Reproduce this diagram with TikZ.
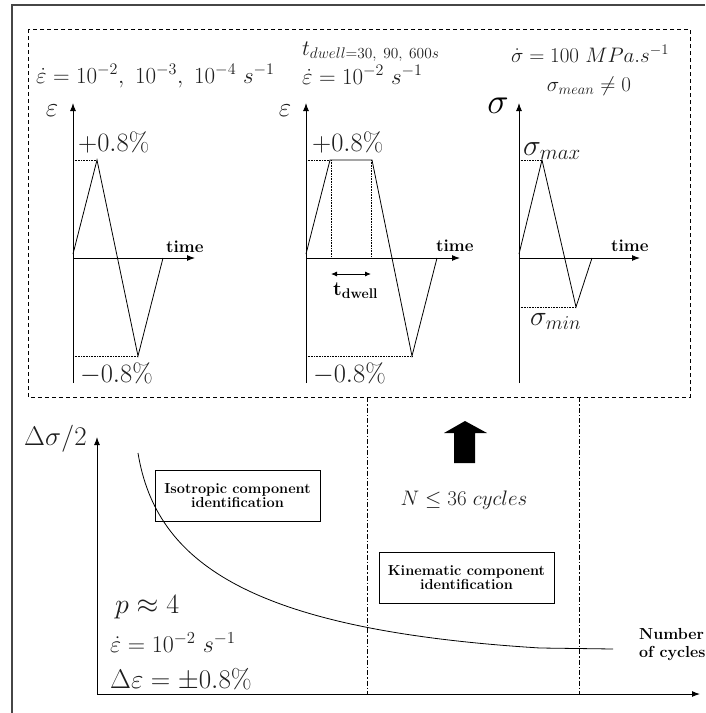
\RequirePackage{fix-cm}
\documentclass[tikz,border=0pt]{standalone}
\usetikzlibrary{arrows.meta}
\definecolor{txt}{RGB}{30,30,30}
\definecolor{frame}{RGB}{70,70,70}
\newcommand\fsz[1]{\fontsize{#1}{#1}\selectfont}
\begin{document}
\begin{tikzpicture}[x=1pt,y=-1pt,
  lbl/.style={inner sep=0pt,text=txt},
  axisline/.style={line width=1pt,-{Latex[length=8pt,width=6pt]}},
  wave/.style={line width=0.8pt},
  guide/.style={line width=0.6pt,dash pattern=on 0.8pt off 0.8pt},
  boxdash/.style={line width=0.8pt,dash pattern=on 4pt off 3pt},
  dashdot/.style={line width=0.8pt,dash pattern=on 5pt off 2pt on 1.5pt off 2pt},
  idbox/.style={draw,line width=0.8pt,inner sep=0pt,align=center,font=\fsz{14.5}\bfseries,text=black},
  timelbl/.style={inner sep=0pt,font=\fsz{17}\bfseries,anchor=base west}]
\useasboundingbox (0,0) rectangle (705,713);
% outer frame
\draw[frame,line width=1.4pt] (12,713) -- (12,5) -- (705,5);
% dashed box
\draw[boxdash] (28,29) rectangle (690,397);
% ---------- texts top
\node[lbl,anchor=base west] (r1) at (36,83) {\fsz{23}$\dot\varepsilon=10^{-2},\ 10^{-3},\ 10^{-4}\ s^{-1}$};
\node[lbl,anchor=base west] (r2a) at (302,55) {\fsz{22}$t_{dwell=30,\ 90,\ 600s}$};
\node[lbl,anchor=base west] (r2b) at (302,84) {\fsz{23}$\dot\varepsilon=10^{-2}\ s^{-1}$};
\node[lbl,anchor=base] (r3a) at (590,62) {\fsz{21}$\dot\sigma=100\ MPa.s^{-1}$};
\node[lbl,anchor=base] (r3b) at (589,91) {\fsz{21}$\sigma_{mean}\neq0$};
% ---------- panel 1
\coordinate (o1) at (73,258);
\node[lbl,anchor=base] (e1) at (52,116) {\fsz{27}$\varepsilon$};
\draw[axisline] (73,383) -- (73,103);
\draw[axisline] (o1) -- (195,258);
\node[timelbl] (t1) at (166,252) {time};
\draw[guide] (73,160) -- (97,160);
\draw[guide] (73,356) -- (138,356);
\draw[wave] (73,254) -- (97,160) -- (138,356) -- (163,258);
\node[lbl,anchor=base west] (p1) at (78,151) {\fsz{26.5}$+0.8\%$};
\node[lbl,anchor=base west] (m1) at (80,382) {\fsz{26.5}$-0.8\%$};
% ---------- panel 2
\coordinate (o2) at (306,258);
\node[lbl,anchor=base] (e2) at (285,116) {\fsz{27}$\varepsilon$};
\draw[axisline] (306,383) -- (306,103);
\draw[axisline] (o2) -- (460,258);
\node[timelbl] (t2) at (436,251) {time};
\draw[guide] (306,160) -- (330,160);
\draw[guide] (306,356) -- (412,356);
\draw[guide] (331,160) -- (331,258);
\draw[guide] (371,160) -- (371,258);
\draw[wave] (306,254) -- (330,160) -- (372,160) -- (412,356) -- (437,258);
\draw[line width=0.9pt,{Latex[length=6pt,width=5pt]}-{Latex[length=6pt,width=5pt]}] (331,274) -- (371,274);
\node[inner sep=0pt,anchor=base west] (td) at (333,295) {\fsz{20}\bfseries t\raisebox{-3pt}{\fsz{14}dwell}};
\node[lbl,anchor=base west] (p2) at (312,151) {\fsz{26.5}$+0.8\%$};
\node[lbl,anchor=base west] (m2) at (313,382) {\fsz{26.5}$-0.8\%$};
% ---------- panel 3
\coordinate (o3) at (519,258);
\node[lbl,anchor=base,text=black] (s3) at (498,113) {\fsz{36}$\sigma$};
\draw[axisline] (519,383) -- (519,103);
\draw[axisline] (o3) -- (640,258);
\node[timelbl] (t3) at (611,251) {time};
\draw[guide] (519,160) -- (542,160);
\draw[guide] (519,307) -- (576,307);
\draw[wave] (519,254) -- (542,160) -- (576,307) -- (592,258);
\node[lbl,anchor=base west] (smax) at (523,155) {\fsz{30}$\sigma_{max}$};
\node[lbl,anchor=base west] (smin) at (530,325) {\fsz{28}$\sigma_{min}$};
% ---------- bottom part
\draw[dashdot] (367,397) -- (367,694);
\draw[dashdot] (579,397) -- (579,694);
\draw[axisline] (97,694) -- (97,437);
\draw[axisline] (97,694) -- (700,694);
\node[lbl,anchor=base west] (ds) at (24,445) {\fsz{27}$\Delta\sigma/2$};
\coordinate (c0) at (138,453);
\coordinate (c1) at (540,648);
\coordinate (c2) at (613,649);
\draw[line width=0.8pt] (c0) .. controls (156,563) and (250,630) .. (c1) -- (c2);
\node[idbox,minimum width=165pt,minimum height=51pt] (iso) at (237.5,495.5) {Isotropic component\\[-1pt]identification};
\node[idbox,minimum width=175pt,minimum height=51pt] (kin) at (466.5,577.5) {Kinematic component\\[-1pt]identification};
\fill[black] (465,421) -- (487,433) -- (475,433) -- (475,463) -- (454,463) -- (454,433) -- (444,433) -- cycle;
\node[lbl,anchor=base] (ncy) at (464,505) {\fsz{21}$N\leq36\ cycles$};
\node[lbl,anchor=base west] (pp) at (115,613) {\fsz{28}$p\approx4$};
\node[lbl,anchor=base west] (er) at (110,652) {\fsz{24}$\dot\varepsilon=10^{-2}\ s^{-1}$};
\node[lbl,anchor=base west] (de) at (110,688) {\fsz{27}$\Delta\varepsilon=\pm0.8\%$};
\node[inner sep=0pt,anchor=base west,align=left,font=\fsz{16}\bfseries] (noc) at (639,657) {Number\\[2pt]of cycles};
\end{tikzpicture}
\end{document}
